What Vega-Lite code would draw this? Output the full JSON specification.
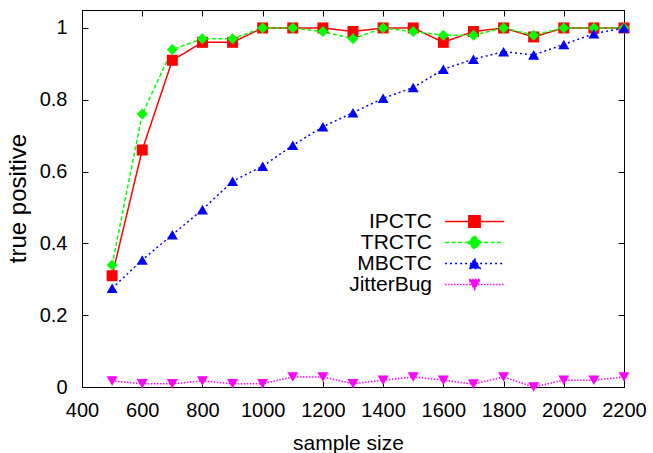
{
  "$schema": "https://vega.github.io/schema/vega-lite/v6.json",
  "autosize": "none",
  "width": 542,
  "height": 377,
  "padding": {"left": 82, "top": 10, "right": 29, "bottom": 66},
  "background": "white",
  "config": {
    "view": {"stroke": "black", "strokeWidth": 1},
    "font": "Liberation Sans",
    "axis": {
      "grid": false,
      "domainColor": "black",
      "domainWidth": 1,
      "tickColor": "black",
      "tickWidth": 1,
      "tickSize": -6,
      "labelColor": "black",
      "labelFont": "Liberation Sans",
      "labelFontSize": 20,
      "titleFont": "Liberation Sans",
      "titleFontSize": 21,
      "titleFontWeight": "normal",
      "titleColor": "black"
    }
  },
  "data": {
    "values": [
      {"size": 500, "series": "IPCTC", "tp": 0.31}, {"size": 600, "series": "IPCTC", "tp": 0.66}, {"size": 700, "series": "IPCTC", "tp": 0.91}, {"size": 800, "series": "IPCTC", "tp": 0.96}, {"size": 900, "series": "IPCTC", "tp": 0.96}, {"size": 1000, "series": "IPCTC", "tp": 1.0}, {"size": 1100, "series": "IPCTC", "tp": 1.0}, {"size": 1200, "series": "IPCTC", "tp": 1.0}, {"size": 1300, "series": "IPCTC", "tp": 0.99}, {"size": 1400, "series": "IPCTC", "tp": 1.0}, {"size": 1500, "series": "IPCTC", "tp": 1.0}, {"size": 1600, "series": "IPCTC", "tp": 0.96}, {"size": 1700, "series": "IPCTC", "tp": 0.99}, {"size": 1800, "series": "IPCTC", "tp": 1.0}, {"size": 1900, "series": "IPCTC", "tp": 0.975}, {"size": 2000, "series": "IPCTC", "tp": 1.0}, {"size": 2100, "series": "IPCTC", "tp": 1.0}, {"size": 2200, "series": "IPCTC", "tp": 1.0},
      {"size": 500, "series": "TRCTC", "tp": 0.34}, {"size": 600, "series": "TRCTC", "tp": 0.76}, {"size": 700, "series": "TRCTC", "tp": 0.94}, {"size": 800, "series": "TRCTC", "tp": 0.97}, {"size": 900, "series": "TRCTC", "tp": 0.97}, {"size": 1000, "series": "TRCTC", "tp": 1.0}, {"size": 1100, "series": "TRCTC", "tp": 1.0}, {"size": 1200, "series": "TRCTC", "tp": 0.99}, {"size": 1300, "series": "TRCTC", "tp": 0.97}, {"size": 1400, "series": "TRCTC", "tp": 1.0}, {"size": 1500, "series": "TRCTC", "tp": 0.99}, {"size": 1600, "series": "TRCTC", "tp": 0.98}, {"size": 1700, "series": "TRCTC", "tp": 0.98}, {"size": 1800, "series": "TRCTC", "tp": 1.0}, {"size": 1900, "series": "TRCTC", "tp": 0.98}, {"size": 2000, "series": "TRCTC", "tp": 1.0}, {"size": 2100, "series": "TRCTC", "tp": 1.0}, {"size": 2200, "series": "TRCTC", "tp": 1.0},
      {"size": 500, "series": "MBCTC", "tp": 0.275}, {"size": 600, "series": "MBCTC", "tp": 0.354}, {"size": 700, "series": "MBCTC", "tp": 0.424}, {"size": 800, "series": "MBCTC", "tp": 0.494}, {"size": 900, "series": "MBCTC", "tp": 0.573}, {"size": 1000, "series": "MBCTC", "tp": 0.615}, {"size": 1100, "series": "MBCTC", "tp": 0.673}, {"size": 1200, "series": "MBCTC", "tp": 0.725}, {"size": 1300, "series": "MBCTC", "tp": 0.764}, {"size": 1400, "series": "MBCTC", "tp": 0.804}, {"size": 1500, "series": "MBCTC", "tp": 0.834}, {"size": 1600, "series": "MBCTC", "tp": 0.885}, {"size": 1700, "series": "MBCTC", "tp": 0.913}, {"size": 1800, "series": "MBCTC", "tp": 0.934}, {"size": 1900, "series": "MBCTC", "tp": 0.925}, {"size": 2000, "series": "MBCTC", "tp": 0.954}, {"size": 2100, "series": "MBCTC", "tp": 0.984}, {"size": 2200, "series": "MBCTC", "tp": 1.0},
      {"size": 500, "series": "JitterBug", "tp": 0.017}, {"size": 600, "series": "JitterBug", "tp": 0.009}, {"size": 700, "series": "JitterBug", "tp": 0.009}, {"size": 800, "series": "JitterBug", "tp": 0.017}, {"size": 900, "series": "JitterBug", "tp": 0.009}, {"size": 1000, "series": "JitterBug", "tp": 0.009}, {"size": 1100, "series": "JitterBug", "tp": 0.028}, {"size": 1200, "series": "JitterBug", "tp": 0.028}, {"size": 1300, "series": "JitterBug", "tp": 0.009}, {"size": 1400, "series": "JitterBug", "tp": 0.019}, {"size": 1500, "series": "JitterBug", "tp": 0.028}, {"size": 1600, "series": "JitterBug", "tp": 0.019}, {"size": 1700, "series": "JitterBug", "tp": 0.008}, {"size": 1800, "series": "JitterBug", "tp": 0.028}, {"size": 1900, "series": "JitterBug", "tp": 0.0}, {"size": 2000, "series": "JitterBug", "tp": 0.019}, {"size": 2100, "series": "JitterBug", "tp": 0.019}, {"size": 2200, "series": "JitterBug", "tp": 0.028}
    ]
  },
  "resolve": {"axis": {"x": "independent", "y": "independent"}},
  "layer": [
    {
      "mark": {"type": "line", "strokeWidth": 1.5},
      "encoding": {
        "x": {"field": "size", "type": "quantitative",
              "scale": {"domain": [400, 2200], "nice": false, "zero": false},
              "axis": {"orient": "bottom", "values": [400, 600, 800, 1000, 1200, 1400, 1600, 1800, 2000, 2200], "format": "d", "title": "sample size", "labelPadding": 19.5, "labelFlush": false, "titleX": 266, "titleY": 62.6, "titleBaseline": "alphabetic"}},
        "y": {"field": "tp", "type": "quantitative",
              "scale": {"domain": [0, 1.05], "nice": false},
              "axis": {"orient": "left", "values": [0, 0.2, 0.4, 0.6, 0.8, 1], "format": "~g", "title": "true positive", "titleFontSize": 24, "labelPadding": 21, "labelFlush": false, "titleX": -64, "titleY": 188, "titleAngle": -90, "titleAlign": "center", "titleBaseline": "middle"}},
        "color": {"field": "series", "type": "nominal",
                  "scale": {"domain": ["IPCTC", "TRCTC", "MBCTC", "JitterBug"], "range": ["#ff0000", "#00ff00", "#0000ff", "#ff00ff"]},
                  "legend": {
                    "orient": "none", "legendX": 382, "legendY": 201, "title": null, "padding": 0,
                    "labelAlign": "right", "labelOffset": -53, "labelFontSize": 21, "labelFont": "Liberation Sans", "labelColor": "black",
                    "symbolSize": 128, "symbolStrokeWidth": 1.5, "rowPadding": -1.7,
                    "encoding": {
                      "symbols": {
                        "shape": {"condition": [
                          {"test": "datum.value === 'IPCTC'", "value": "M-5.2,0H5.2M-1,-1H1V1H-1Z"},
                          {"test": "datum.value === 'TRCTC'", "value": "M-5.2,0H5.2M0,-1.18L1.18,0L0,1.18L-1.18,0Z"},
                          {"test": "datum.value === 'MBCTC'", "value": "M-5.2,0H5.2M0,-0.87L1,0.87L-1,0.87Z"}
                        ], "value": "M-5.2,0H5.2M0,0.87L1,-0.87L-1,-0.87Z"},
                        "fill": {"condition": [
                          {"test": "datum.value === 'IPCTC'", "value": "#ff0000"},
                          {"test": "datum.value === 'TRCTC'", "value": "#00ff00"},
                          {"test": "datum.value === 'MBCTC'", "value": "#0000ff"}
                        ], "value": "#ff00ff"},
                        "stroke": {"condition": [
                          {"test": "datum.value === 'IPCTC'", "value": "#ff0000"},
                          {"test": "datum.value === 'TRCTC'", "value": "#00ff00"},
                          {"test": "datum.value === 'MBCTC'", "value": "#0000ff"}
                        ], "value": "#ff00ff"},
                        "strokeWidth": {"value": 1.5},
                        "strokeDash": {"condition": [
                          {"test": "datum.value === 'IPCTC'", "value": [1, 0]},
                          {"test": "datum.value === 'TRCTC'", "value": [4, 2.5]},
                          {"test": "datum.value === 'MBCTC'", "value": [2, 3]}
                        ], "value": [1.5, 1.5]},
                        "opacity": {"value": 1}
                      }
                    }
                  }},
        "strokeDash": {"field": "series", "type": "nominal",
                       "scale": {"domain": ["JitterBug", "MBCTC", "TRCTC", "IPCTC"], "range": [[1.5, 1.5], [2, 3], [4, 2.5], [1, 0]]},
                       "legend": null}
      }
    },
    {
      "mark": {"type": "point", "filled": true, "opacity": 1, "strokeWidth": 0},
      "encoding": {
        "x": {"field": "size", "type": "quantitative",
              "axis": {"orient": "top", "values": [400, 600, 800, 1000, 1200, 1400, 1600, 1800, 2000, 2200], "labels": false, "title": null}},
        "y": {"field": "tp", "type": "quantitative",
              "axis": {"orient": "right", "values": [0, 0.2, 0.4, 0.6, 0.8, 1], "labels": false, "title": null}},
        "fill": {"field": "series", "type": "nominal",
                 "scale": {"domain": ["JitterBug", "MBCTC", "TRCTC", "IPCTC"], "range": ["#ff00ff", "#0000ff", "#00ff00", "#ff0000"]},
                 "legend": null},
        "shape": {"field": "series", "type": "nominal",
                  "scale": {"domain": ["JitterBug", "MBCTC", "TRCTC", "IPCTC"], "range": ["triangle-down", "triangle-up", "diamond", "square"]},
                  "legend": null},
        "size": {"field": "series", "type": "nominal",
                 "scale": {"domain": ["JitterBug", "MBCTC", "TRCTC", "IPCTC"], "range": [121, 121, 177, 128]},
                 "legend": null}
      }
    }
  ]
}
